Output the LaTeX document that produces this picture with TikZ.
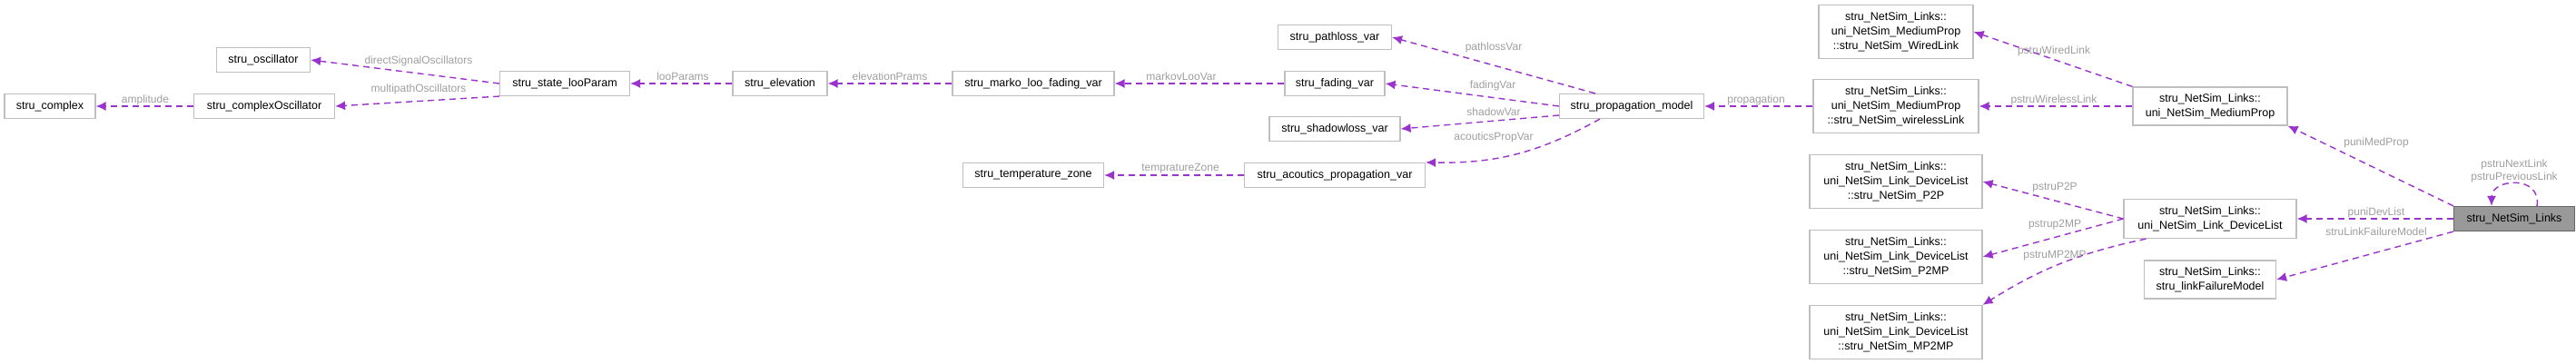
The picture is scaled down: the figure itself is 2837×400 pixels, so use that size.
\documentclass[tikz,border=0pt]{standalone}
\usepackage{fontspec}
\setmainfont{Liberation Sans}
\usetikzlibrary{arrows.meta}
\definecolor{edgepurple}{HTML}{9A32CD}
\definecolor{boxgrey}{HTML}{BFBFBF}
\definecolor{labelgrey}{HTML}{9E9E9E}
\tikzset{
  cls/.style={draw=boxgrey, line width=1.2pt, fill=white, minimum height=27pt, inner sep=2pt, align=center, font=\fontsize{12.5}{16}\selectfont},
  main/.style={cls, draw=black!60, fill=black!40},
  mem/.style={draw=edgepurple, line width=1.4pt, dash pattern=on 7pt off 5pt, -{Latex[length=11pt,width=10pt]}},
  lbl/.style={text=labelgrey, font=\fontsize{12}{14}\selectfont, inner sep=1pt, align=center}
}
\begin{document}
\begin{tikzpicture}[x=1pt, y=-1pt]
        \useasboundingbox (0,0) rectangle (2837,400);
        % classes
        \node[cls, minimum width=100pt] (complex) at (55,117) {stru\_complex};
        \node[cls, minimum width=155pt] (cosc) at (291,117) {stru\_complexOscillator};
        \node[cls, minimum width=103pt] (osc) at (290,66) {stru\_oscillator};
        \node[cls, minimum width=143pt] (loo) at (622,92) {stru\_state\_looParam};
        \node[cls, minimum width=104pt] (elev) at (859,92) {stru\_elevation};
        \node[cls, minimum width=178pt] (marko) at (1138,92) {stru\_marko\_loo\_fading\_var};
        \node[cls, minimum width=125pt] (pathloss) at (1470,41) {stru\_pathloss\_var};
        \node[cls, minimum width=110pt] (fading) at (1470,92) {stru\_fading\_var};
        \node[cls, minimum width=144pt] (shadow) at (1470,142) {stru\_shadowloss\_var};
        \node[cls, minimum width=159pt] (prop) at (1797,117) {stru\_propagation\_model};
        \node[cls, minimum width=155pt] (temp) at (1138,193) {stru\_temperature\_zone};
        \node[cls, minimum width=199pt] (acou) at (1470,193) {stru\_acoutics\_propagation\_var};
        \node[cls, minimum width=170pt, minimum height=59pt] (wired) at (2088,35) {stru\_NetSim\_Links::\\uni\_NetSim\_MediumProp\\::stru\_NetSim\_WiredLink};
        \node[cls, minimum width=182pt, minimum height=59pt] (wireless) at (2088,117) {stru\_NetSim\_Links::\\uni\_NetSim\_MediumProp\\::stru\_NetSim\_wirelessLink};
        \node[cls, minimum width=170pt, minimum height=42pt] (medprop) at (2434,117) {stru\_NetSim\_Links::\\uni\_NetSim\_MediumProp};
        \node[cls, minimum width=190pt, minimum height=59pt] (p2p) at (2088,200) {stru\_NetSim\_Links::\\uni\_NetSim\_Link\_DeviceList\\::stru\_NetSim\_P2P};
        \node[cls, minimum width=190pt, minimum height=59pt] (p2mp) at (2088,283) {stru\_NetSim\_Links::\\uni\_NetSim\_Link\_DeviceList\\::stru\_NetSim\_P2MP};
        \node[cls, minimum width=190pt, minimum height=59pt] (mp2mp) at (2088,366) {stru\_NetSim\_Links::\\uni\_NetSim\_Link\_DeviceList\\::stru\_NetSim\_MP2MP};
        \node[cls, minimum width=190pt, minimum height=43pt] (devlist) at (2434,241) {stru\_NetSim\_Links::\\uni\_NetSim\_Link\_DeviceList};
        \node[cls, minimum width=145pt, minimum height=42pt] (failure) at (2434,308) {stru\_NetSim\_Links::\\stru\_linkFailureModel};
        \node[main, minimum width=133pt] (links) at (2769,241) {stru\_NetSim\_Links};
        % members
        \draw[mem] (cosc) -- (complex);
        \draw[mem] (loo.west) -- (osc.east);
        \draw[mem] (loo.south west) -- (cosc.east);
        \draw[mem] (elev) -- (loo);
        \draw[mem] (marko) -- (elev);
        \draw[mem] (fading) -- (marko);
        \draw[mem] (prop.north west) ++(40,0) coordinate (p1) (p1) -- (pathloss.east);
        \draw[mem] (prop.west) -- (fading.east);
        \draw[mem] (prop.west) ++(0,10) coordinate (p2) (p2) -- (shadow.east);
        \draw[mem] (prop.south west) ++(45,0) coordinate (p3) (p3) to[bend left=15] (acou.north east);
        \draw[mem] (acou) -- (temp);
        \draw[mem] (wireless) -- (prop);
        \draw[mem] (medprop.north west) -- (wired.east);
        \draw[mem] (medprop) -- (wireless);
        \draw[mem] (links.north west) -- (medprop.south east);
        \draw[mem] (devlist.west) -- (p2p.east);
        \draw[mem] (devlist.west) -- (p2mp.east);
        \draw[mem] (devlist.south west) ++(25,0) coordinate (d1) (d1) to[bend right=10] (mp2mp.north east);
        \draw[mem] (links) -- (devlist);
        \draw[mem] (links.south west) -- (failure.east);
        \draw[mem] (links.north) ++(25,0) coordinate (s1) (s1) .. controls +(5,-35) and +(0,-30) .. ([xshift=-25pt]links.north);
        % labels
        \node[lbl] (lamp) at (160,110) {amplitude};
        \node[lbl] (ldir) at (461,67) {directSignalOscillators};
        \node[lbl] (lmul) at (461,98) {multipathOscillators};
        \node[lbl] (lloo) at (752,84) {looParams};
        \node[lbl] (lelev) at (980,84) {elevationPrams};
        \node[lbl] (lmark) at (1301,84) {markovLooVar};
        \node[lbl] (lpath) at (1645,52) {pathlossVar};
        \node[lbl] (lfad) at (1644,94) {fadingVar};
        \node[lbl] (lsha) at (1645,123) {shadowVar};
        \node[lbl] (lacou) at (1645,151) {acouticsPropVar};
        \node[lbl] (ltemp) at (1300,186) {tempratureZone};
        \node[lbl] (lprop) at (1934,110) {propagation};
        \node[lbl] (lwired) at (2262,56) {pstruWiredLink};
        \node[lbl] (lwless) at (2262,110) {pstruWirelessLink};
        \node[lbl] (lmed) at (2617,157) {puniMedProp};
        \node[lbl] (lself) at (2769,188) {pstruNextLink\\pstruPreviousLink};
        \node[lbl] (ldev) at (2617,234) {puniDevList};
        \node[lbl] (lfail) at (2617,255) {struLinkFailureModel};
        \node[lbl] (lp2p) at (2263,207) {pstruP2P};
        \node[lbl] (lp2mp) at (2263,248) {pstrup2MP};
        \node[lbl] (lmp2mp) at (2263,282) {pstruMP2MP};
\end{tikzpicture}
\end{document}
